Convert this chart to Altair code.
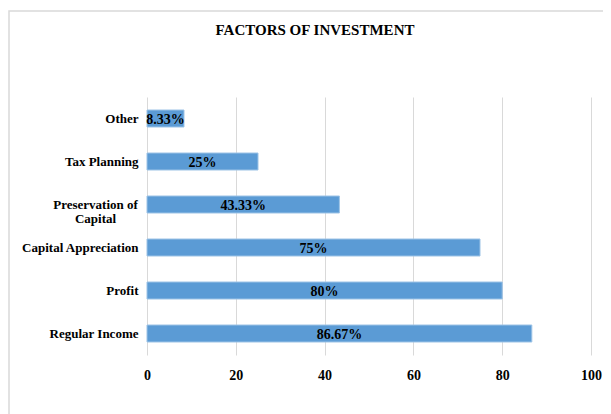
import altair as alt
import pandas as pd

categories = ["Other", "Tax Planning", "Preservation of Capital",
              "Capital Appreciation", "Profit", "Regular Income"]
values = [8.33, 25, 43.33, 75, 80, 86.67]
labels = ["8.33%", "25%", "43.33%", "75%", "80%", "86.67%"]
title_text = "FACTORS OF INVESTMENT"

df = pd.DataFrame({"cat": categories, "val": values, "lab": labels})
df["half"] = df["val"] / 2

FONT = "Liberation Serif"
label_expr = ("datum.label == 'Preservation of Capital' ? "
              "['Preservation of', 'Capital'] : datum.label")
two_line = "datum.value == 'Preservation of Capital'"

W, H = 444, 258
LEFT, TOP = 139, 89

y_enc = alt.Y("cat:N", sort=categories, title=None,
              scale=alt.Scale(paddingInner=0, paddingOuter=0),
              axis=alt.Axis(labelFont=FONT, labelFontSize=13, labelFontWeight="bold",
                            labelColor="#000000", ticks=False, domain=False,
                            labelAlign={"condition": {"test": two_line, "value": "center"},
                                        "value": "right"},
                            labelPadding={"condition": {"test": two_line, "value": 52},
                                          "value": 9},
                            labelExpr=label_expr, labelLineHeight=14))

x_enc = alt.X("val:Q", title=None, scale=alt.Scale(domain=[0, 100]),
              axis=alt.Axis(values=[0, 20, 40, 60, 80, 100], labelFont=FONT,
                            labelFontSize=14, labelFontWeight="bold", labelColor="#000000",
                            ticks=False, domain=False, grid=True, gridColor="#d9d9d9",
                            labelPadding=13, labelFlush=False))

border = alt.Chart(pd.DataFrame({"a": [0]})).mark_rect(
    fillOpacity=0, stroke="#d9d9d9", strokeWidth=1.5
).encode(x=alt.value(-LEFT + 1), x2=alt.value(700), y=alt.value(-TOP + 3), y2=alt.value(500))

title = alt.Chart(pd.DataFrame({"t": [title_text]})).mark_text(
    font=FONT, fontSize=15, fontWeight="bold", color="#000000", baseline="middle"
).encode(x=alt.value(315 - 8 - LEFT), y=alt.value(30 - 8 - TOP), text="t:N")

bars = alt.Chart(df).mark_bar(size=17, color="#5B9BD5", stroke="#9DC3E6",
                              strokeWidth=1).encode(y=y_enc, x=x_enc)

text = alt.Chart(df).mark_text(font=FONT, fontSize=14, fontWeight="bold",
                               color="#000000", dy=1).encode(
    y=alt.Y("cat:N", sort=categories),
    x=alt.X("half:Q"),
    text="lab:N")

chart = alt.layer(border, title, bars, text).properties(
    width=W, height=H,
    autosize=alt.AutoSizeParams(type="none"),
    padding={"left": LEFT, "top": TOP, "right": 595 - LEFT - W, "bottom": 406 - TOP - H},
).configure_view(stroke=None)

chart.save("out.html", embed_options={"renderer": "svg", "actions": False})
